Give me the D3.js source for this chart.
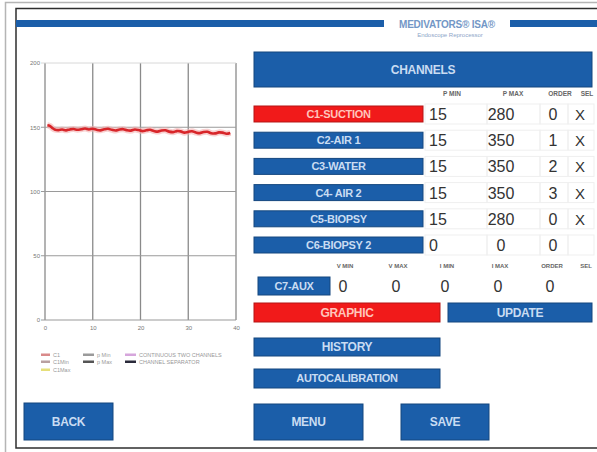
<!DOCTYPE html>
<html>
<head>
<meta charset="utf-8">
<script src="https://cdn.jsdelivr.net/npm/d3@7"></script>
<style>
  html, body { margin: 0; padding: 0; background: #fff; }
  svg { display: block; font-family: "Liberation Sans", Arial, sans-serif; }
  .axis path, .axis line { display: none; }
  .axis text { fill: #777; font-size: 6px; }
</style>
</head>
<body>
<div id="screen"></div>
<script>
// ---- data ----
const xTicks = [0, 10, 20, 30, 40];
const yTicks = [0, 50, 100, 150, 200];

// C1 suction pressure trace
const traceTime = [0.5, 1, 1.5, 2, 2.8, 3.6, 4.4, 5.2, 6, 6.8, 7.6, 8.4, 9.2, 10, 10.8, 11.6, 12.4, 13.2, 14, 14.8,
  15.6, 16.4, 17.2, 18, 18.8, 19.6, 20.4, 21.2, 22, 22.8, 23.6, 24.4, 25.2, 26, 26.8, 27.6, 28.4, 29.2, 30, 30.8,
  31.6, 32.4, 33.2, 34, 34.8, 35.6, 36.4, 37.2, 38, 38.8];
const traceValue = [151.5, 151, 149.5, 148.3, 147.8, 148.2, 147.6, 148.3, 148.6, 148, 148.5, 149, 148.3, 148.8, 148, 147.6, 148.4, 148.8, 148, 147.5,
  148.3, 148.5, 147.6, 147.4, 148.2, 147.8, 147, 147.6, 148, 147.1, 146.6, 147.4, 147.6, 146.6, 146.2, 147, 146.8, 145.8, 146.4, 146.9,
  145.9, 145.4, 146.3, 146.5, 145.4, 145.2, 146, 145.8, 145, 145.6];

const legendLabels = [["C1", "p Min", "CONTINUOUS TWO CHANNELS"], ["C1Min", "p Max", "CHANNEL SEPARATOR"], ["C1Max"]];
const legendColors = [["#d98a8a", "#9a9a9a", "#d6a6dc"], ["#b9a0a0", "#555", "#2a2a3a"], ["#e6df7a"]];

const channelNames = ["C1-SUCTION", "C2-AIR 1", "C3-WATER", "C4- AIR 2", "C5-BIOPSY", "C6-BIOPSY 2"];
const pMin = [15, 15, 15, 15, 15, 0];
const pMax = [280, 350, 350, 350, 280, 0];
const order = [0, 1, 2, 3, 0, 0];
const sel = ["X", "X", "X", "X", "X", ""];
const tableHeads = ["P MIN", "P MAX", "ORDER", "SEL"];

const auxHeads = ["V MIN", "V MAX", "I MIN", "I MAX", "ORDER", "SEL"];
const auxValues = [0, 0, 0, 0, 0];

const BLUE = "#1b5ea9", RED = "#f11a1a";

const W = 597, H = 452;
const svg = d3.select("#screen").append("svg").attr("width", W).attr("height", H);
svg.append("rect").attr("width", W).attr("height", H).attr("fill", "#fff");

// frames
svg.append("rect").attr("x", 5.5).attr("y", 2.5).attr("width", W).attr("height", H)
  .attr("fill", "none").attr("stroke", "#b5b5b5").attr("stroke-width", 1.5);
svg.append("rect").attr("x", 16).attr("y", 8.5).attr("width", W).attr("height", 439.5)
  .attr("fill", "none").attr("stroke", "#2e2e2e").attr("stroke-width", 1.5);

// header band + logo
svg.append("rect").attr("x", 16).attr("y", 20).attr("width", 368).attr("height", 7).attr("fill", BLUE);
svg.append("rect").attr("x", 510).attr("y", 20).attr("width", 90).attr("height", 7).attr("fill", BLUE);
svg.append("text").attr("x", 447).attr("y", 28).attr("text-anchor", "middle")
  .attr("font-size", 10).attr("font-weight", "bold").attr("fill", "#7397c6").attr("letter-spacing", -0.2)
  .text("MEDIVATORS\u00ae ISA\u00ae");
svg.append("text").attr("x", 450).attr("y", 37).attr("text-anchor", "middle")
  .attr("font-size", 6).attr("fill", "#8ea6c8").text("Endoscope Reprocessor");

// ---- chart ----
const x = d3.scaleLinear().domain([0, 40]).range([45, 236]);
const y = d3.scaleLinear().domain([0, 200]).range([320, 63]);

const grid = svg.append("g");
grid.selectAll(".vg").data(xTicks).enter().append("line")
  .attr("x1", d => x(d)).attr("x2", d => x(d)).attr("y1", y(200)).attr("y2", y(0))
  .attr("stroke", "#8a8a8a").attr("stroke-width", 1.3);
grid.selectAll(".hg").data(yTicks).enter().append("line")
  .attr("x1", x(0) - 4).attr("x2", x(40)).attr("y1", d => y(d)).attr("y2", d => y(d))
  .attr("stroke", d => d === 200 ? "#d8d8d8" : "#9a9a9a").attr("stroke-width", d => d === 200 ? 1 : 1.2);

svg.append("g").attr("class", "axis").attr("transform", "translate(" + (x(0) - 3) + ",0)")
  .call(d3.axisLeft(y).tickValues(yTicks).tickSize(0).tickPadding(2));
svg.append("g").attr("class", "axis").attr("transform", "translate(0," + (y(0) + 4) + ")")
  .call(d3.axisBottom(x).tickValues(xTicks).tickSize(0).tickPadding(2));

const trace = traceTime.map((t, i) => [t, traceValue[i]]);
const line = d3.line().x(d => x(d[0])).y(d => y(d[1])).curve(d3.curveCatmullRom);
svg.append("path").datum(trace).attr("d", line).attr("fill", "none")
  .attr("stroke", "#f4b0b0").attr("stroke-width", 6).attr("opacity", 0.6);
svg.append("path").datum(trace).attr("d", line).attr("fill", "none")
  .attr("stroke", "#d8262a").attr("stroke-width", 2.6);

// legend
const legX = [41, 83, 125], legY = [355, 362, 370];
legendLabels.forEach((row, r) => {
  row.forEach((lab, c) => {
    svg.append("rect").attr("x", legX[c]).attr("y", legY[r] - 1.5)
      .attr("width", c === 0 ? 9 : 11).attr("height", 2.5).attr("fill", legendColors[r][c]);
    svg.append("text").attr("x", legX[c] + (c === 0 ? 12 : 14)).attr("y", legY[r] + 2)
      .attr("font-size", 5.5).attr("fill", "#999").text(lab);
  });
});

// ---- buttons / table ----
function button(x0, y0, w, h, label, fill, size) {
  const g = svg.append("g");
  g.append("rect").attr("x", x0).attr("y", y0).attr("width", w).attr("height", h)
    .attr("fill", fill).attr("stroke", d3.color(fill).darker(0.8)).attr("stroke-width", 1);
  g.append("text").attr("x", x0 + w / 2).attr("y", y0 + h / 2 + (size || 11) * 0.36)
    .attr("text-anchor", "middle").attr("font-size", size || 11).attr("font-weight", "bold")
    .attr("fill", fill === RED ? "#ffc4bb" : "#c9dcf2").attr("letter-spacing", -0.3).text(label);
}

button(254, 52, 338, 35, "CHANNELS", BLUE, 12);

const colX = [452, 513, 560, 587];
tableHeads.forEach((h, i) => {
  svg.append("text").attr("x", colX[i]).attr("y", 96).attr("text-anchor", "middle")
    .attr("font-size", 6.5).attr("font-weight", "bold").attr("fill", "#666").text(h);
});

const rowY = d3.scaleBand().domain(d3.range(channelNames.length)).range([106, 253]).paddingInner(0.39);
channelNames.forEach((name, i) => {
  const yy = rowY(i), hh = rowY.bandwidth();
  // faint cell borders
  [425, 487, 540, 568].forEach((cx, k) => {
    const cw = [62, 53, 28, 26][k];
    svg.append("rect").attr("x", cx).attr("y", yy - 2).attr("width", cw).attr("height", hh + 4)
      .attr("fill", "none").attr("stroke", "#efefef");
  });
  button(254, yy, 169, hh, name, i === 0 ? RED : BLUE, 11);
  const cy = yy + hh / 2 + 6;
  svg.append("text").attr("x", 429).attr("y", cy).attr("font-size", 16).attr("fill", "#333").text(pMin[i]);
  svg.append("text").attr("x", 501).attr("y", cy).attr("text-anchor", "middle").attr("font-size", 16).attr("fill", "#333").text(pMax[i]);
  svg.append("text").attr("x", 553).attr("y", cy).attr("text-anchor", "middle").attr("font-size", 16).attr("fill", "#333").text(order[i]);
  svg.append("text").attr("x", 580).attr("y", cy).attr("text-anchor", "middle").attr("font-size", 15).attr("fill", "#333").text(sel[i]);
});

// C7 aux row
const auxX = [345, 398, 447, 500, 552, 586];
auxHeads.forEach((h, i) => {
  svg.append("text").attr("x", auxX[i]).attr("y", 268).attr("text-anchor", "middle")
    .attr("font-size", 6).attr("font-weight", "bold").attr("fill", "#666").text(h);
});
button(258, 277, 72, 18, "C7-AUX", BLUE, 11);
auxValues.forEach((v, i) => {
  svg.append("text").attr("x", auxX[i] - 2).attr("y", 292).attr("text-anchor", "middle")
    .attr("font-size", 16).attr("fill", "#333").text(v);
});

button(254, 303, 186, 19, "GRAPHIC", RED, 12);
button(448, 303, 144, 19, "UPDATE", BLUE, 12);
button(254, 338, 186, 18, "HISTORY", BLUE, 12);
button(254, 369, 186, 19, "AUTOCALIBRATION", BLUE, 11);
button(24, 403, 89, 37, "BACK", BLUE, 12);
button(254, 404, 109, 36, "MENU", BLUE, 12);
button(401, 404, 88, 36, "SAVE", BLUE, 12);
</script>
</body>
</html>
